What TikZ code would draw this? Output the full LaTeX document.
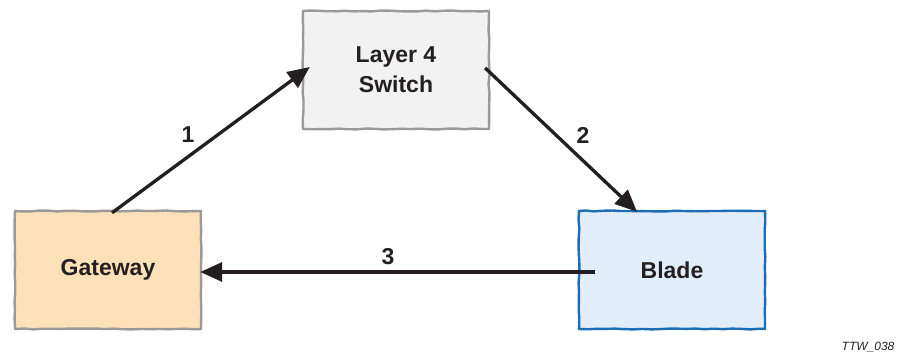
\documentclass[tikz,border=0pt]{standalone}
\usepackage{fontspec}
\setmainfont{Liberation Sans}
\usetikzlibrary{arrows.meta,decorations.pathmorphing}
\definecolor{gwfill}{HTML}{FCE0B8}
\definecolor{swfill}{HTML}{F2F2F2}
\definecolor{blfill}{HTML}{E1EDF8}
\definecolor{boxgrey}{HTML}{9A9A9A}
\definecolor{bladeblue}{HTML}{1C6DB6}
\definecolor{ink}{HTML}{231F20}
\tikzset{
  sketchbox/.style={draw, line width=2.4pt, minimum width=186pt, minimum height=118pt,
    inner sep=0pt, align=center, text=ink,
    font=\fontsize{23}{30}\selectfont\bfseries,
    decorate, decoration={random steps, segment length=9pt, amplitude=0.5pt}},
  flow/.style={draw=ink, line width=3.3pt, -{Triangle[length=22pt,width=19pt]}},
  steplabel/.style={text=ink, font=\fontsize{23}{28}\selectfont\bfseries}
}
\begin{document}
\begin{tikzpicture}[x=1pt,y=-1pt]
  \useasboundingbox (0,0) rectangle (905,355);
  % the three stations
  \node[sketchbox, draw=boxgrey, fill=gwfill] (gw) at (108,270) {Gateway};
  \node[sketchbox, draw=boxgrey, fill=swfill] (sw) at (396,70) {Layer 4\\Switch};
  \node[sketchbox, draw=bladeblue, fill=blfill] (bl) at (672,270) {Blade};
  % request path
  \draw[flow] ([xshift=4pt,yshift=-3pt]gw.north) -- ([xshift=8pt,yshift=3pt]sw.west);
  \draw[flow] ([xshift=-5pt,yshift=2pt]sw.east) -- ([xshift=-35pt,yshift=-2pt]bl.north);
  \draw[flow] ([xshift=17pt,yshift=-2pt]bl.west) -- ([xshift=-2pt,yshift=-2pt]gw.east);
  % step numbers
  \node[steplabel] (n1) at (188,135) {1};
  \node[steplabel] (n2) at (583,135) {2};
  \node[steplabel] (n3) at (388,257) {3};
  % figure tag
  \node[text=ink, font=\fontsize{12}{14}\selectfont\itshape] (tag) at (868,347) {TTW\_038};
\end{tikzpicture}
\end{document}
